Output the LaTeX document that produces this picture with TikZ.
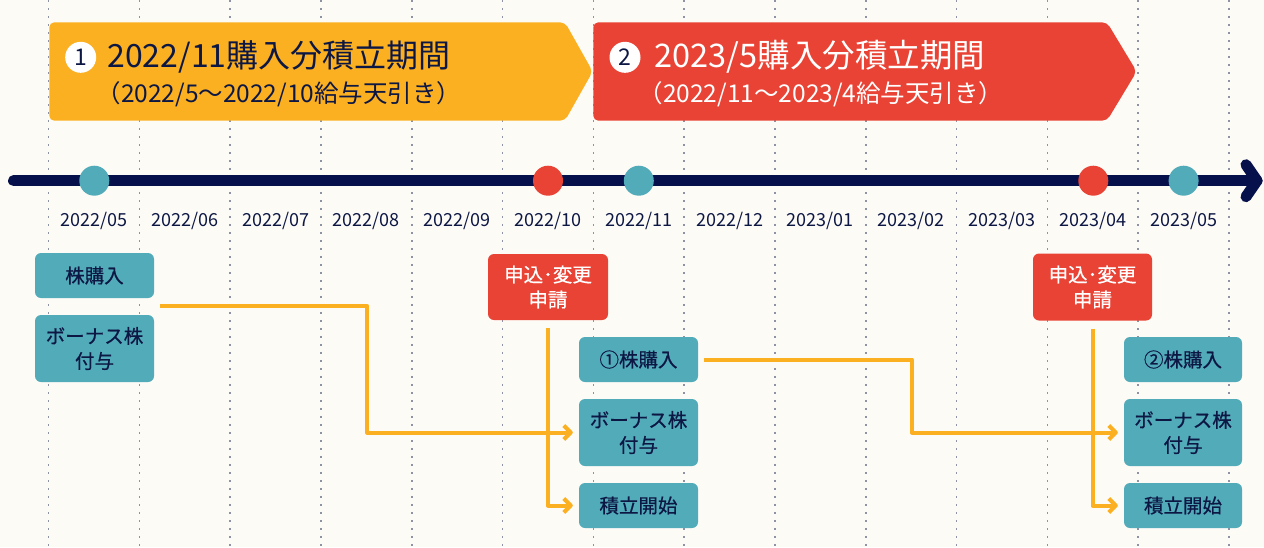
\documentclass[tikz,border=0pt]{standalone}
\usepackage{fontspec}
\setmainfont{Noto Sans CJK JP}
\newfontfamily\boxfont[FakeBold=0.6]{Noto Sans CJK JP}
\usetikzlibrary{arrows.meta,calc}
\definecolor{bg}{HTML}{FDFBF6}
\definecolor{navy}{HTML}{06104A}
\definecolor{txt}{HTML}{0D1744}
\definecolor{tealc}{HTML}{52ABB9}
\definecolor{redc}{HTML}{E84335}
\definecolor{orng}{HTML}{FBB022}
\definecolor{dotc}{HTML}{8E93A3}
\begin{document}
\begin{tikzpicture}[x=1pt,y=-1pt,
  box/.style={rectangle, rounded corners=6pt, fill=tealc, text=txt, inner sep=0pt, align=center, font=\boxfont\fontsize{19.5}{25}\selectfont},
  redbox/.style={box, fill=redc, text=white},
  conn/.style={draw=orng, line width=4pt, line join=round, -{Straight Barb[length=7pt,width=14pt,line join=round]}},
  month/.style={anchor=base, text=txt, font=\fontsize{18}{18}\selectfont},
  tdot/.style={circle, minimum size=30pt, inner sep=0pt},
  numc/.style={circle, fill=white, minimum size=31pt, inner sep=0pt, text=txt, font=\fontsize{23}{23}\selectfont},
  gridline/.style={draw=dotc, line width=1.6pt, dash pattern=on 1.6pt off 6.4pt},
  banner/.style={rounded corners=5pt}
]
% background
\fill[bg] (0,0) rectangle (1264,547);
\useasboundingbox (0,0) rectangle (1264,547);
% dotted grid
\foreach \k in {0,...,13} {
  \draw[gridline] ({48.6+90.8*\k},0) -- ({48.6+90.8*\k},547);
}
% banners
\fill[orng, banner] (49.3,22.3) -- (565,22.3) -- (592.7,71.5) -- (565,120.7) -- (49.3,120.7) -- cycle;
\fill[redc, banner] (593.3,22.3) -- (1107,22.3) -- (1136.7,71.5) -- (1107,120.7) -- (593.3,120.7) -- cycle;
\node[numc] (n1) at (80.7,57.3) {1};
\node[numc] (n2) at (625,57.3) {2};
\node[anchor=base, text=txt, font=\fontsize{32}{32}\selectfont] (t1) at (279,67.7) {2022/11購入分積立期間};
\node[anchor=base, text=txt, font=\fontsize{24.5}{24.5}\selectfont] (s1) at (279,102.3) {（2022/5～2022/10給与天引き）};
\node[anchor=base, text=white, font=\fontsize{32.5}{32.5}\selectfont] (t2) at (820,67.7) {2023/5購入分積立期間};
\node[anchor=base, text=white, font=\fontsize{24.5}{24.5}\selectfont] (s2) at (821,102.3) {（2022/11～2023/4給与天引き）};
% timeline
\coordinate (tlS) at (13.5,180.7);
\coordinate (tlE) at (1257,180.7);
\draw[navy, line width=11pt, line cap=round] (tlS) -- (tlE);
\draw[navy, line width=11pt, line cap=round, line join=round] ($(tlE)+(-11,-16)$) -- (tlE) -- ($(tlE)+(-11,16)$);
\node[tdot, fill=tealc] (d1) at (94.3,180.7) {};
\node[tdot, fill=redc] (d2) at (548,180.7) {};
\node[tdot, fill=tealc] (d3) at (638.8,180.7) {};
\node[tdot, fill=redc] (d4) at (1093.3,180.7) {};
\node[tdot, fill=tealc] (d5) at (1183.6,180.7) {};
% month labels
\foreach \m [count=\i from 0] in {2022/05,2022/06,2022/07,2022/08,2022/09,2022/10,2022/11,2022/12,2023/01,2023/02,2023/03,2023/04,2023/05} {
  \node[month] (m\i) at ({94+90.8*\i},226.7) {\m};
}
% boxes
\node[box, minimum width=119pt, minimum height=45pt] (A1) at (94.5,275.5) {株購入};
\node[box, minimum width=119pt, minimum height=67pt] (A2) at (94.5,348.5) {ボーナス株\\付与};
\node[redbox, minimum width=120pt, minimum height=66pt] (R1) at (548,287) {申込･変更\\申請};
\node[box, minimum width=119pt, minimum height=45pt] (B1) at (638.5,359.5) {①株購入};
\node[box, minimum width=119pt, minimum height=67pt] (B2) at (638.5,432.5) {ボーナス株\\付与};
\node[box, minimum width=119pt, minimum height=45pt] (B3) at (638.5,505.5) {積立開始};
\node[redbox, minimum width=119pt, minimum height=67pt] (R2) at (1092.5,287) {申込･変更\\申請};
\node[box, minimum width=118pt, minimum height=45pt] (C1) at (1183,359.5) {②株購入};
\node[box, minimum width=118pt, minimum height=67pt] (C2) at (1183,432.5) {ボーナス株\\付与};
\node[box, minimum width=118pt, minimum height=45pt] (C3) at (1183,505.5) {積立開始};
% connectors
\coordinate (st1) at (160,306);
\coordinate (k1) at (367.3,432.5);
\coordinate (k2) at (911.7,432.5);
\draw[conn] (st1) -| (k1) -- ([xshift=-6pt]B2.west);
\draw[conn] ([yshift=-8pt]R1.south) |- ([xshift=-6pt]B3.west);
\draw[conn] ([xshift=6pt]B1.east) -| (k2) -- ([xshift=-6pt]C2.west);
\draw[conn] ([yshift=-8pt]R2.south) |- ([xshift=-6pt]C3.west);
\end{tikzpicture}
\end{document}
